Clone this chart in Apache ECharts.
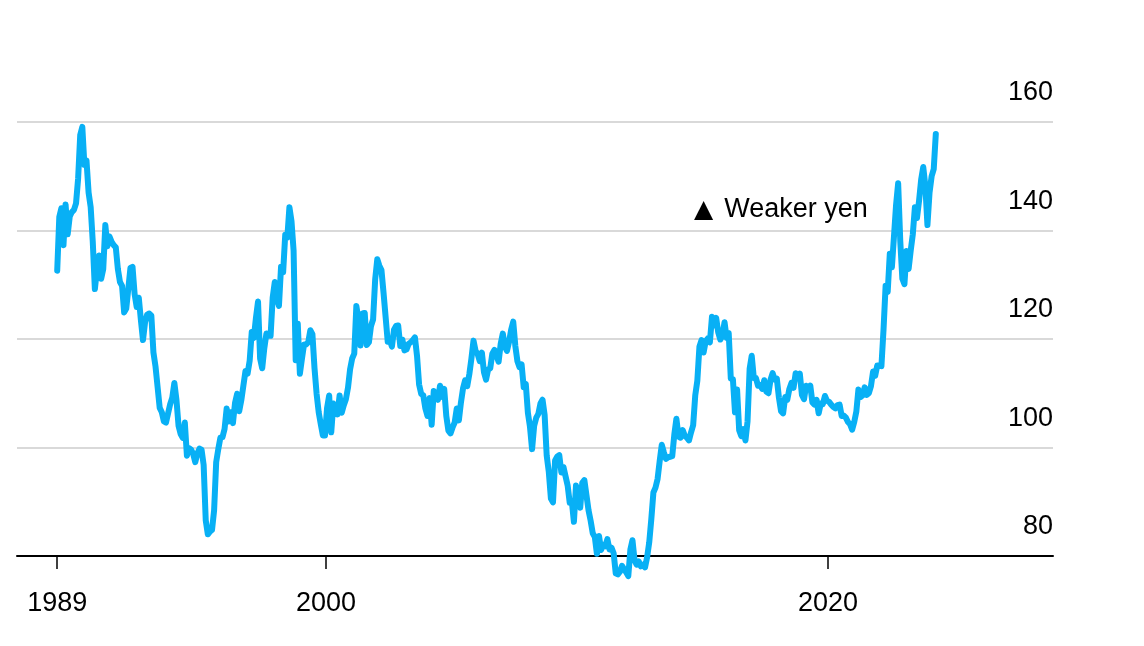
<!DOCTYPE html>
<html><head><meta charset="utf-8">
<script src="https://cdn.jsdelivr.net/npm/echarts@6/dist/echarts.min.js"></script>
<style>html,body{margin:0;padding:0;background:#fff}#c{width:1144px;height:646px}</style>
</head><body><div id="c"></div>
<script>
// Monthly USD/JPY values, starting April 1989
const startYear = 1989, startMonth = 4;
const usdJpy1989to1999 = [
  132.6, 142.5, 144.1, 137.3, 144.8, 139.3, 142.6, 143.4, 143.8,
  145.0, 149.6, 157.6, 159.1, 152.1, 152.9, 147.0, 144.3, 137.9, 129.2, 132.8, 135.4,
  131.1, 132.9, 141.0, 137.1, 138.9, 137.9, 137.3, 136.9, 132.9, 130.5, 129.8, 124.9,
  125.6, 129.3, 133.1, 133.3, 128.3, 125.9, 127.6, 123.5, 119.8, 123.1, 124.5, 124.7,
  124.3, 117.5, 114.9, 111.1, 107.3, 106.5, 104.8, 104.6, 106.3, 108.0, 109.2, 111.9,
  108.8, 104.0, 102.5, 101.8, 104.6, 98.5, 99.9, 99.6, 98.8, 97.3, 98.9, 99.8,
  99.6, 96.8, 86.6, 84.0, 84.5, 84.8, 88.4, 97.3, 99.7, 101.8, 101.9, 103.4,
  107.2, 104.8, 106.5, 104.5, 108.2, 109.9, 106.7, 108.7, 111.4, 114.1, 113.6, 116.0,
  121.3, 120.2, 123.9, 126.9, 116.4, 114.6, 118.3, 121.0, 120.6, 120.6, 127.6, 130.5,
  127.5, 126.1, 133.3, 132.3, 139.2, 138.7, 144.3, 141.7, 136.3, 116.1, 122.8, 113.6,
  116.4, 119.0, 119.0, 119.4, 121.6, 120.9, 114.6, 109.9, 106.5, 104.3, 102.2, 102.2
];
const usdJpy2000to2009 = [
  107.3, 109.6, 102.8, 108.1, 107.6, 106.1, 109.6, 106.4, 107.8, 108.9, 111.0, 114.4,
  116.4, 117.3, 126.1, 123.6, 118.8, 124.7, 124.8, 118.9, 119.4, 122.4, 123.6, 131.0,
  134.7, 133.5, 132.7, 128.5, 124.0, 119.5, 119.8, 118.6, 121.7, 122.4, 122.5, 118.7,
  119.9, 117.9, 118.1, 119.1, 119.4, 119.8, 120.3, 116.9, 111.6, 109.9, 109.6, 107.2,
  105.8, 109.1, 104.2, 110.4, 109.6, 108.8, 111.4, 109.3, 110.8, 105.8, 103.1, 102.6,
  103.7, 104.6, 107.2, 105.0, 108.3, 110.9, 112.4, 111.3, 113.5, 116.4, 119.7, 117.8,
  117.2, 115.9, 117.5, 113.9, 112.5, 114.4, 114.6, 117.3, 118.0, 116.9, 115.8, 119.1,
  121.0, 118.6, 117.8, 119.5, 121.7, 123.2, 118.7, 115.9, 114.8, 115.3, 111.1, 111.7,
  106.4, 103.8, 99.7, 104.0, 105.5, 106.2, 108.1, 108.8, 106.0, 98.5, 95.5, 90.6,
  89.9, 97.6, 98.3, 98.6, 95.4, 96.4, 94.7, 93.0, 89.8, 90.1, 86.3, 93.0
];
const usdJpy2010to2024 = [
  90.3, 88.9, 93.5, 94.0, 91.2, 88.4, 86.5, 84.2, 83.5, 80.4, 83.7, 81.1,
  82.1, 81.8, 83.1, 81.2, 81.5, 80.5, 76.8, 76.6, 77.1, 78.2, 77.6, 77.0,
  76.3, 81.2, 82.9, 79.2, 78.4, 79.0, 78.1, 78.4, 77.9, 79.8, 82.5, 86.8,
  91.7, 92.6, 94.2, 97.5, 100.5, 99.1, 97.9, 98.2, 98.3, 98.4, 102.4, 105.3,
  102.0, 101.8, 103.2, 102.2, 101.8, 101.3, 102.8, 104.1, 109.6, 112.3, 118.6, 119.8,
  117.5, 119.6, 120.1, 119.4, 124.1, 122.5, 123.9, 121.2, 119.9, 120.6, 123.1, 120.2,
  121.1, 112.7, 112.6, 106.5, 110.7, 103.2, 102.1, 103.4, 101.3, 104.8, 114.5, 116.9,
  112.8, 112.8, 111.4, 111.5, 110.8, 112.4, 110.3, 110.0, 112.5, 113.7, 112.5, 112.7,
  109.2, 106.7, 106.3, 109.3, 108.8, 110.8, 111.9, 111.0, 113.7, 112.9, 113.6, 109.7,
  108.9, 111.4, 110.9, 111.4, 108.3, 107.9, 108.8, 106.3, 108.1, 108.0, 109.5, 108.6,
  108.4, 107.9, 107.5, 107.2, 107.8, 107.9, 105.8, 105.9, 105.5, 104.7, 104.3, 103.3,
  104.7, 106.6, 110.7, 109.3, 109.6, 111.1, 109.7, 110.0, 111.3, 114.0, 113.2, 115.1,
  115.1, 115.0, 121.7, 129.8, 128.7, 135.7, 133.2, 138.9, 144.7, 148.7, 138.1, 131.1,
  130.1, 136.2, 132.9, 136.3, 139.3, 144.3, 142.3, 145.5, 149.4, 151.7, 148.2, 141.0,
  147.0, 150.0, 151.3, 157.8
];
const yTickValues = [80, 100, 120, 140, 160];
const xLabelYears = [2000, 2020];
const annotationMarker = '▲';
const annotationText = 'Weaker yen';

const values = usdJpy1989to1999.concat(usdJpy2000to2009, usdJpy2010to2024);
const seriesData = values.map((v, i) => {
  const m = startMonth - 1 + i;
  const year = startYear + Math.floor(m / 12);
  const month = (m % 12) + 1;
  return [year + (month - 0.5) / 12, v];
});
const xTicks = [seriesData[0][0]].concat(xLabelYears);

const FONT = 'Liberation Sans, Arial, Helvetica, sans-serif';
const chart = echarts.init(document.getElementById('c'), null, {renderer: 'canvas'});
chart.setOption({
  backgroundColor: '#ffffff',
  animation: false,
  grid: {left: 17, right: 91, top: 122, bottom: 90, containLabel: false},
  xAxis: {
    type: 'value',
    min: 1987.69,
    max: 2028.96,
    axisLine: {show: true, lineStyle: {color: '#000', width: 2}},
    axisTick: {show: true, customValues: xTicks, length: 13, lineStyle: {color: '#000', width: 1.5}},
    axisLabel: {
      show: true, customValues: xTicks, margin: 34,
      formatter: v => String(Math.floor(v + 1e-6)),
      color: '#000', fontFamily: FONT, fontSize: 27, lineHeight: 27
    },
    splitLine: {show: false}
  },
  yAxis: {
    type: 'value',
    position: 'right',
    min: yTickValues[0],
    max: yTickValues[yTickValues.length - 1],
    interval: yTickValues[1] - yTickValues[0],
    axisLine: {show: false},
    axisTick: {show: false},
    axisLabel: {
      inside: true, margin: 0, verticalAlign: 'bottom', lineHeight: 58,
      color: '#000', fontFamily: FONT, fontSize: 27
    },
    splitLine: {show: true, showMinLine: false, lineStyle: {color: '#d9d9d9', width: 2}}
  },
  series: [{
    type: 'line',
    data: seriesData,
    showSymbol: false,
    clip: false,
    lineStyle: {color: '#08b0f5', width: 6, join: 'round', cap: 'round'},
    z: 5
  }],
  graphic: [{
    type: 'text',
    z: 10,
    style: {
      x: 694, y: 210,
      text: '{m|' + annotationMarker + '}{t|' + annotationText + '}',
      fill: '#000', verticalAlign: 'middle', align: 'left',
      rich: {
        m: {fontFamily: 'DejaVu Sans, sans-serif', fontSize: 25, fill: '#000', verticalAlign: 'middle'},
        t: {fontFamily: FONT, fontSize: 27, fill: '#000', verticalAlign: 'middle', padding: [0, 0, 0, 11]}
      }
    }
  }]
});
</script></body></html>
